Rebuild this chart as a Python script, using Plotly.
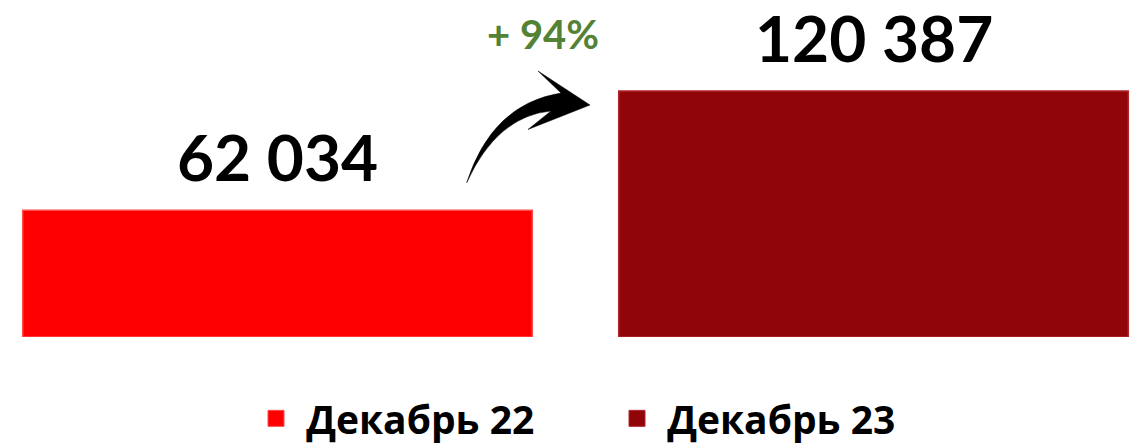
import plotly.graph_objects as go

categories = ["Декабрь 22", "Декабрь 23"]
values = [62034, 120387]
colors = ["#FE0000", "#8F0509"]
edge_colors = ["#FF4A4A", "#B3262B"]

W, H = 1148, 446
PLOT_H = 337
FONT = "Lato, 'Open Sans', 'Noto Sans', sans-serif"
LEG_FONT = "'Open Sans', 'Noto Sans', sans-serif"

fig = go.Figure()
fig.add_trace(go.Bar(
    x=categories, y=values, width=0.855,
    marker=dict(color=colors, line=dict(color=edge_colors, width=1.5)),
    showlegend=False, hoverinfo="skip",
))
# legend entries (square markers)
for name, c, ec in zip(categories, colors, edge_colors):
    fig.add_trace(go.Scatter(
        x=[None], y=[None], mode="markers", name="\u00a0" + name,
        marker=dict(symbol="square", size=16, color=c, line=dict(color=ec, width=1)),
    ))


def fmt(v):
    return f"{v:,}".replace(",", " ")


for cat, v in zip(categories, values):
    fig.add_annotation(
        x=cat, y=v, xref="x", yref="y", text=fmt(v), showarrow=False,
        yanchor="bottom", yshift=14, borderpad=0,
        font=dict(family=FONT, size=64, color="#000000", weight="bold"),
    )

growth = round((values[1] / values[0] - 1) * 100)
fig.add_annotation(
    x=543 / W, y=(PLOT_H - 60) / PLOT_H, xref="paper", yref="paper",
    text=f"+ {growth}%", showarrow=False, xanchor="center", yanchor="bottom",
    font=dict(family=FONT, size=40, color="#548235", weight="bold"),
)

# curved arrow (decoration) in pixel coords -> paper
def P(x, y):
    return f"{x / W:.5f},{(PLOT_H - y) / PLOT_H:.5f}"

path = (
    f"M {P(466.7, 182.7)} Q {P(492, 104)} {P(561, 93)} L {P(538, 71)} "
    f"L {P(590, 105)} L {P(528, 129.5)} L {P(551, 111)} "
    f"Q {P(497, 116)} {P(466.7, 182.7)} Z"
)
fig.add_shape(type="path", path=path, xref="paper", yref="paper",
              fillcolor="#000000", line=dict(color="#000000", width=0.5))

x0 = -277.5 / 596
fig.update_layout(
    width=W, height=H,
    margin=dict(l=0, r=0, t=0, b=H - PLOT_H, autoexpand=False),
    paper_bgcolor="white", plot_bgcolor="white",
    xaxis=dict(range=[x0, x0 + W / 596], visible=False, type="category"),
    yaxis=dict(range=[0, PLOT_H * 120387 / 246], visible=False),
    legend=dict(
        orientation="h", xref="container", yref="container",
        x=617 / W, xanchor="center", y=(H - 418.5) / H, yanchor="middle",
        font=dict(family=LEG_FONT, size=39, color="#000000", weight="bold"),
        bgcolor="rgba(0,0,0,0)", entrywidth=316,
    ),
    showlegend=True,
)

fig.write_html("out.html", config={"displayModeBar": False},
               post_script="document.body.style.margin='0px';")
